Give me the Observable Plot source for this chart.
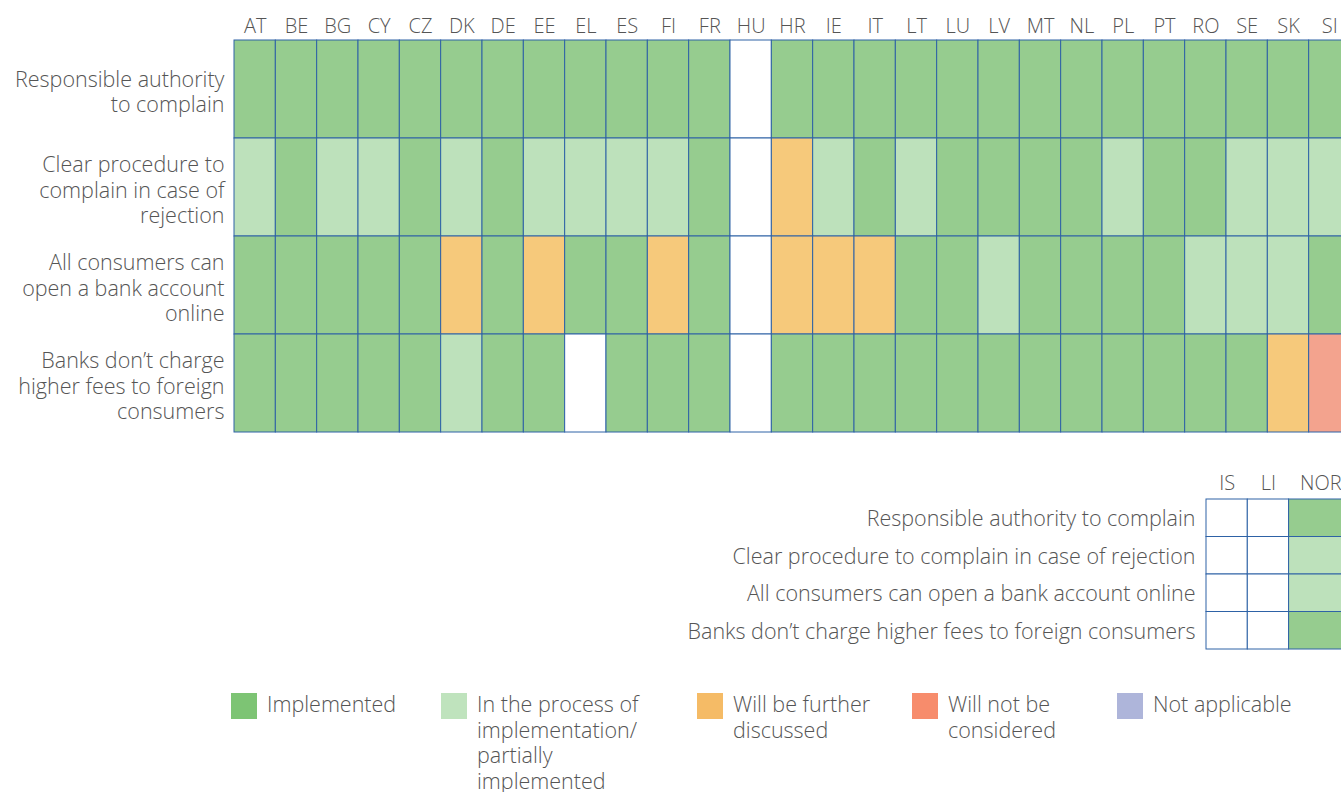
<!DOCTYPE html>
<html>
<head>
<meta charset="utf-8">
<script src="https://cdn.jsdelivr.net/npm/d3@7"></script>
<script src="https://cdn.jsdelivr.net/npm/@observablehq/plot@0.6"></script>
<style>
  html, body { margin: 0; padding: 0; background: #fff; overflow: hidden; }
  #wrap { position: relative; width: 1341px; height: 792px; overflow: hidden; font-family: "Open Sans", sans-serif; font-weight: 300; color: #555; }
  #main { position: absolute; left: 0; top: 0; width: 1350px; }
  #efta { position: absolute; left: 0; top: 460px; width: 1350px; }
  #wrap svg { max-width: none !important; }
  .lg { position: absolute; top: 692px; display: flex; align-items: flex-start; }
  .lg .sw { width: 26px; height: 26px; flex: none; margin-top: 1px; }
  .lg .tx { margin-left: 10px; font-size: 21.5px; line-height: 25.5px; margin-top: -1px; white-space: nowrap; }
  svg text { font-family: "Open Sans", sans-serif; font-weight: 300; }
</style>
</head>
<body>
<div id="wrap">
  <div id="main"></div>
  <div id="efta"></div>
</div>
<script>
// ---- data ----
const countries = ["AT","BE","BG","CY","CZ","DK","DE","EE","EL","ES","FI","FR","HU","HR","IE","IT","LT","LU","LV","MT","NL","PL","PT","RO","SE","SK","SI"];
const criteria = [
  "Responsible authority to complain",
  "Clear procedure to complain in case of rejection",
  "All consumers can open a bank account online",
  "Banks don’t charge higher fees to foreign consumers"
];
const criteriaWrapped = [
  "Responsible authority\nto complain",
  "Clear procedure to\ncomplain in case of\nrejection",
  "All consumers can\nopen a bank account\nonline",
  "Banks don’t charge\nhigher fees to foreign\nconsumers"
];
// codes: I = implemented, P = in process/partially, D = will be further discussed, N = will not be considered, A = not applicable, "-" = no answer
const row1 = ["I","I","I","I","I","I","I","I","I","I","I","I","-","I","I","I","I","I","I","I","I","I","I","I","I","I","I"];
const row2 = ["P","I","P","P","I","P","I","P","P","P","P","I","-","D","P","I","P","I","I","I","I","P","I","I","P","P","P"];
const row3 = ["I","I","I","I","I","D","I","D","I","I","D","I","-","D","D","D","I","I","P","I","I","I","I","P","P","P","I"];
const row4 = ["I","I","I","I","I","P","I","I","-","I","I","I","-","I","I","I","I","I","I","I","I","I","I","I","I","D","N"];
const eftaCountries = ["IS","LI","NOR"];
const eftaIS  = ["-","-","-","-"];
const eftaLI  = ["-","-","-","-"];
const eftaNOR = ["I","P","P","I"];

const statusCodes  = ["I","P","D","N","A","-"];
const cellColors   = ["#96cc8f","#bde1bb","#f6c97b","#f3a38e","#aeb5da","#ffffff"];
const legendLabels = ["Implemented","In the process of<br>implementation/<br>partially<br>implemented","Will be further<br>discussed","Will not be<br>considered","Not applicable"];
const legendColors = ["#7dc474","#bfe3bd","#f5bb66","#f78c6c","#aeb5da"];

// ---- tables ----
const mainRows = [row1,row2,row3,row4];
const mainData = [];
mainRows.forEach((r,i) => r.forEach((s,j) => mainData.push({country: countries[j], criterion: criteria[i], status: s})));
const eftaCols = [eftaIS, eftaLI, eftaNOR];
const eftaData = [];
eftaCols.forEach((col,j) => col.forEach((s,i) => eftaData.push({country: eftaCountries[j], criterion: criteria[i], status: s})));

const stroke = "#2e62a6";
const txt = "#555";

const main = Plot.plot({
  width: 1350, height: 432,
  marginLeft: 234, marginRight: 0, marginTop: 40, marginBottom: 0,
  x: {domain: countries, padding: 0, round: false, axis: "top", tickSize: 0, tickPadding: 8, label: null},
  y: {domain: criteria, padding: 0, round: false, axis: null},
  color: {domain: statusCodes, range: cellColors},
  style: {fontSize: "20px", color: txt, overflow: "visible", maxWidth: "none"},
  marks: [
    Plot.cell(mainData, {x: "country", y: "criterion", fill: "status", stroke: stroke, strokeWidth: 1}),
    Plot.text(criteria, {y: d => d, text: (d,i) => criteriaWrapped[i], frameAnchor: "left", dx: -10, textAnchor: "end", fontSize: 21.5, lineHeight: 1.19, fill: txt, dy: 2})
  ]
});
document.getElementById("main").appendChild(main);

const efta = Plot.plot({
  width: 1350, height: 189,
  marginLeft: 1206, marginRight: 20.1, marginTop: 39, marginBottom: 0,
  x: {domain: eftaCountries, padding: 0, round: false, axis: null},
  y: {domain: criteria, padding: 0, round: false, axis: null},
  color: {domain: statusCodes, range: cellColors},
  style: {fontSize: "20px", color: txt, overflow: "visible", maxWidth: "none"},
  marks: [
    Plot.cell(eftaData.filter(d => d.country !== "NOR"), {x: "country", y: "criterion", fill: "status", stroke: stroke, strokeWidth: 1}),
    Plot.cell(eftaData.filter(d => d.country === "NOR"), {x: "country", y: "criterion", fill: "status", stroke: stroke, strokeWidth: 1, insetRight: -21}),
    Plot.text(eftaCountries.filter(d => d !== "NOR"), {x: d => d, text: d => d, frameAnchor: "top", dy: -10, lineAnchor: "bottom", fontSize: 20, fill: txt}),
    Plot.text(["NOR"], {x: d => d, text: d => d, frameAnchor: "top", dy: -10, lineAnchor: "bottom", fontSize: 20, fill: txt, dx: 11}),
    Plot.text(criteria, {y: d => d, text: d => d, frameAnchor: "left", dx: -11, textAnchor: "end", fontSize: 21.5, fill: txt, dy: 1})
  ]
});
document.getElementById("efta").appendChild(efta);

// ---- legend ----
const legendX = [231, 441, 697, 912, 1117];
const wrap = document.getElementById("wrap");
legendLabels.forEach((lab, i) => {
  const d = document.createElement("div");
  d.className = "lg";
  d.style.left = legendX[i] + "px";
  d.innerHTML = `<div class="sw" style="background:${legendColors[i]}"></div><div class="tx">${lab}</div>`;
  wrap.appendChild(d);
});
</script>
</body>
</html>
